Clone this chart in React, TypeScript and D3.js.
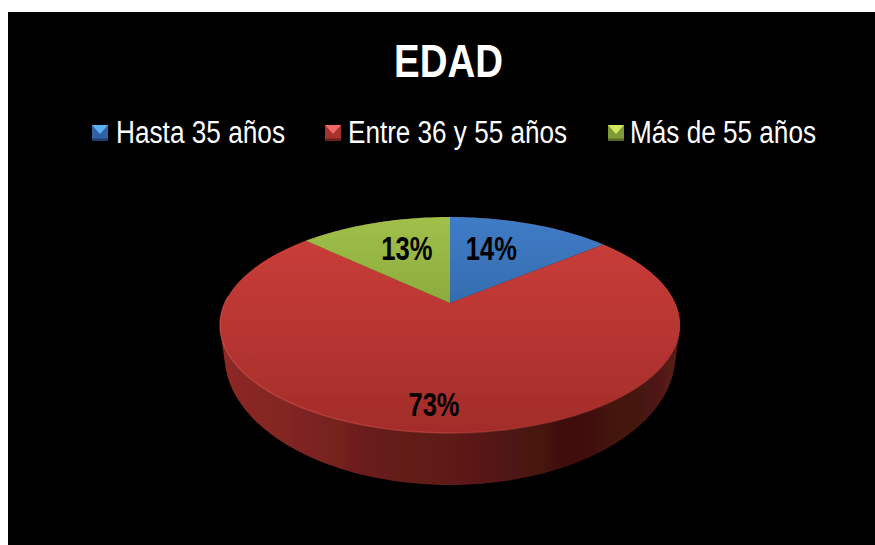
import React from "react";
import * as d3 from "d3";

const categories = ["Hasta 35 años", "Entre 36 y 55 años", "Más de 55 años"];
const values = [14, 73, 13];
const valueLabels = ["14%", "73%", "13%"];
const title = "EDAD";

const W = 875, H = 545;
const cx = 450, apexY = 303;
const k = 0.2037, a = 103.5, b = 225.2;
const baseDrop = 26, baseScaleX = 0.98, baseScaleY = 1.2;

const project = (angle: number, r = 1, sx = 1, sy = 1, dy = 0): [number, number] => {
  const u = Math.sin(angle) * r, v = -Math.cos(angle) * r;
  const d = 1 - k * v;
  return [cx + (sx * b * u) / d, apexY + dy + (sy * a * v) / d];
};

const pieGen = d3.pie<number>().sort(null)(values);
const line = d3.line();
const sweep = (a0: number, a1: number, sx = 1, sy = 1, dy = 0) => {
  const n = Math.max(2, Math.ceil(((a1 - a0) / Math.PI) * 120));
  return d3.range(n + 1).map((i) => project(a0 + ((a1 - a0) * i) / n, 1, sx, sy, dy));
};
const slicePath = (a0: number, a1: number) =>
  line([[cx, apexY], ...sweep(a0, a1)])! + "Z";

const TAU = Math.PI * 2;
const wallHull = d3.polygonHull([
  ...sweep(0, TAU),
  ...sweep(0, TAU, baseScaleX, baseScaleY, baseDrop),
] as [number, number][])!;
const wallPath = line(wallHull)! + "Z";
const rimPath = line(sweep(Math.PI * 0.5, Math.PI * 1.52))!;

const sliceFills = ["url(#gBlue)", "url(#gRed)", "url(#gGreen)"];
const labelNudges: [number, number][] = [[-12, -2], [-9, 0], [6.5, -2]];
const labelRadius = [0.62, 0.82, 0.62];

const legendX = [92, 325, 608];
const legendTextX = [116, 348, 630];
const legendTextLen = [169, 219, 186];
const markerBase = ["#2f62a6", "#a8302d", "#7f9a38"];
const markerTop = ["#5db0f2", "#f2696a", "#cfe85f"];
const markerEdge = ["#1f3f6e", "#6e1f1d", "#566a25"];

export default function App() {
  return (
    <svg width={W} height={H} style={{ position: "absolute", left: 0, top: 0, background: "#fff" }}
      fontFamily="'Liberation Sans', Arial, sans-serif">
      <defs>
        <linearGradient id="gRed" gradientUnits="userSpaceOnUse" x1="0" y1="217" x2="0" y2="433">
          <stop offset="0" stopColor="#cc3e3a" />
          <stop offset="0.45" stopColor="#bb3734" />
          <stop offset="1" stopColor="#a22c29" />
        </linearGradient>
        <linearGradient id="gBlue" gradientUnits="userSpaceOnUse" x1="0" y1="217" x2="0" y2="303">
          <stop offset="0" stopColor="#3f7cc6" />
          <stop offset="1" stopColor="#356cb0" />
        </linearGradient>
        <linearGradient id="gGreen" gradientUnits="userSpaceOnUse" x1="0" y1="217" x2="0" y2="303">
          <stop offset="0" stopColor="#a0c04a" />
          <stop offset="1" stopColor="#8cab3e" />
        </linearGradient>
        <linearGradient id="gWall" gradientUnits="userSpaceOnUse" x1="222" y1="0" x2="680" y2="0">
          <stop offset="0" stopColor="#8e2926" />
          <stop offset="0.2" stopColor="#7c2321" />
          <stop offset="0.35" stopColor="#661c1a" />
          <stop offset="0.55" stopColor="#5a1916" />
          <stop offset="0.75" stopColor="#3f100e" />
          <stop offset="0.9" stopColor="#451310" />
          <stop offset="1" stopColor="#5c1d1a" />
        </linearGradient>
        <linearGradient id="gRim" gradientUnits="userSpaceOnUse" x1="222" y1="0" x2="680" y2="0">
          <stop offset="0" stopColor="#d85550" stopOpacity="0.55" />
          <stop offset="0.5" stopColor="#d85550" stopOpacity="0.4" />
          <stop offset="0.85" stopColor="#c04440" stopOpacity="0.1" />
          <stop offset="1" stopColor="#c04440" stopOpacity="0" />
        </linearGradient>
        <filter id="soft" x="-5%" y="-5%" width="110%" height="110%">
          <feGaussianBlur stdDeviation="0.7" />
        </filter>
      </defs>

      <rect x={8} y={12} width={W - 8} height={H - 12} fill="#000" />

      <text x={448.5} y={77} textAnchor="middle" fontSize={47} fontWeight="bold" fill="#fff"
        textLength={109} lengthAdjust="spacingAndGlyphs">{title}</text>

      {categories.map((c, i) => (
        <g key={c}>
          <rect x={legendX[i]} y={125} width={16} height={16} fill={markerBase[i]} />
          <path d={`M${legendX[i]},125h16l-8,9Z`} fill={markerTop[i]} />
          <rect x={legendX[i]} y={138.5} width={16} height={2.5} fill={markerEdge[i]} />
          <text x={legendTextX[i]} y={143} fontSize={31} fill="#fff"
            textLength={legendTextLen[i]} lengthAdjust="spacingAndGlyphs">{c}</text>
        </g>
      ))}

      <g filter="url(#soft)">
        <path d={wallPath} fill="url(#gWall)" />
        {pieGen.map((p, i) => (
          <path key={i} d={slicePath(p.startAngle, p.endAngle)} fill={sliceFills[i]} />
        ))}
        <path d={rimPath} fill="none" stroke="url(#gRim)" strokeWidth={1.4} />
      </g>

      {pieGen.map((p, i) => {
        const [x, y] = project((p.startAngle + p.endAngle) / 2, labelRadius[i]);
        return (
          <text key={i} x={x + labelNudges[i][0]} y={y + labelNudges[i][1]} textAnchor="middle"
            dominantBaseline="central" fontSize={33} fontWeight="bold" fill="#000"
            textLength={51} lengthAdjust="spacingAndGlyphs">{valueLabels[i]}</text>
        );
      })}
    </svg>
  );
}
